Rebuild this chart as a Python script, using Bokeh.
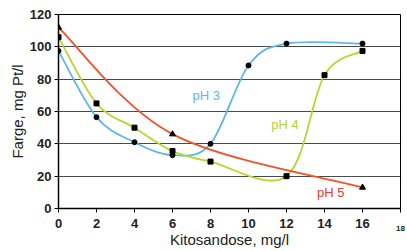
from bokeh.plotting import figure
from bokeh.models import Range1d, Label, ColumnDataSource, LinearAxis, FixedTicker
from bokeh.embed import file_html
from bokeh.resources import INLINE

# ---- data ----
dose_ph3 = [0, 2, 4, 6, 8, 10, 12, 16]
farge_ph3 = [97.5, 56.5, 41, 33, 40, 88.5, 102, 102]
dose_ph4 = [0, 2, 4, 6, 8, 12, 14, 16]
farge_ph4 = [106, 65, 50, 35.5, 29, 20, 82.5, 97.5]
dose_ph5 = [0, 6, 16]
farge_ph5 = [112, 46, 13]
x_ticks = [0, 2, 4, 6, 8, 10, 12, 14, 16]
x_last_tick = [18]
y_ticks = [0, 20, 40, 60, 80, 100, 120]
series_names = ["pH 3", "pH 4", "pH 5"]

C3 = "#5db8e6"
C4 = "#b7d431"
C5 = "#f0532c"
FONT = "Liberation Sans"


def smooth_segments(xs, ys):
    """Bezier control points for an Excel-style smoothed line."""
    n = len(xs)
    d = dict(x0=[], y0=[], x1=[], y1=[], cx0=[], cy0=[], cx1=[], cy1=[])
    for i in range(n - 1):
        xp, yp = (xs[i - 1], ys[i - 1]) if i > 0 else (xs[i], ys[i])
        xn, yn = (xs[i + 2], ys[i + 2]) if i + 2 < n else (xs[i + 1], ys[i + 1])
        d["x0"].append(xs[i]); d["y0"].append(ys[i])
        d["x1"].append(xs[i + 1]); d["y1"].append(ys[i + 1])
        d["cx0"].append(xs[i] + (xs[i + 1] - xp) / 6)
        d["cy0"].append(ys[i] + (ys[i + 1] - yp) / 6)
        d["cx1"].append(xs[i + 1] - (xn - xs[i]) / 6)
        d["cy1"].append(ys[i + 1] - (yn - ys[i]) / 6)
    return ColumnDataSource(d)


p = figure(width=406, height=250, x_range=Range1d(0, 18), y_range=Range1d(0, 120),
           output_backend="svg", toolbar_location=None,
           min_border_left=58, min_border_right=6, min_border_top=14, min_border_bottom=20)

p.outline_line_color = "black"
p.outline_line_width = 1
p.background_fill_color = "white"
p.border_fill_color = "white"

p.xgrid.visible = False
p.ygrid.ticker = y_ticks
p.ygrid.grid_line_color = "#4a4a4a"
p.ygrid.grid_line_width = 1


def style_axis(ax):
    ax.axis_line_color = "black"
    ax.axis_line_width = 1.5
    ax.major_tick_line_color = "black"
    ax.major_tick_in = 0
    ax.major_tick_out = 4
    ax.minor_tick_line_color = None
    ax.major_label_text_font = FONT
    ax.major_label_text_font_style = "bold"
    ax.major_label_text_font_size = "13px"
    ax.major_label_text_color = "#222222"
    ax.axis_label_text_font = FONT
    ax.axis_label_text_font_style = "normal"
    ax.axis_label_text_font_size = "15px"
    ax.axis_label_text_color = "#222222"


style_axis(p.xaxis[0])
style_axis(p.yaxis[0])

p.xaxis[0].ticker = FixedTicker(ticks=x_ticks + x_last_tick)
p.xaxis[0].major_label_overrides = {18: ""}
p.xaxis[0].major_label_standoff = 6
p.yaxis[0].ticker = FixedTicker(ticks=y_ticks)
p.yaxis[0].major_label_standoff = 3
p.yaxis[0].axis_label = "Farge, mg Pt/l"
p.yaxis[0].axis_label_standoff = 1

# second bottom axis: carries the small "18" label and the axis title
ax2 = LinearAxis(ticker=FixedTicker(ticks=x_last_tick))
style_axis(ax2)
ax2.axis_line_color = None
ax2.major_tick_line_color = None
ax2.major_tick_out = 0
ax2.major_label_text_font_size = "8px"
ax2.major_label_standoff = -5
ax2.axis_label = "Kitosandose, mg/l"
ax2.axis_label_standoff = -3
p.add_layout(ax2, "below")

# smoothed lines
for xs, ys, c in ((dose_ph3, farge_ph3, C3), (dose_ph4, farge_ph4, C4), (dose_ph5, farge_ph5, C5)):
    p.bezier(x0="x0", y0="y0", x1="x1", y1="y1", cx0="cx0", cy0="cy0", cx1="cx1", cy1="cy1",
             source=smooth_segments(xs, ys), line_color=c, line_width=1.8)

# markers
p.scatter(dose_ph3, farge_ph3, marker="circle", size=5, color="black")
p.scatter(dose_ph4, farge_ph4, marker="square", size=5, color="black")
p.scatter(dose_ph5, farge_ph5, marker="triangle", size=6, color="black")

# series labels
for name, x, y, c in zip(series_names, [7.05, 11.2, 13.6], [69.8, 52, 10], [C3, C4, "#ec3a2c"]):
    p.add_layout(Label(x=x, y=y, text=name, text_color=c, text_font=FONT,
                       text_font_size="13px", text_align="left", text_baseline="middle"))

open("out.html", "w").write(file_html(p, INLINE))
